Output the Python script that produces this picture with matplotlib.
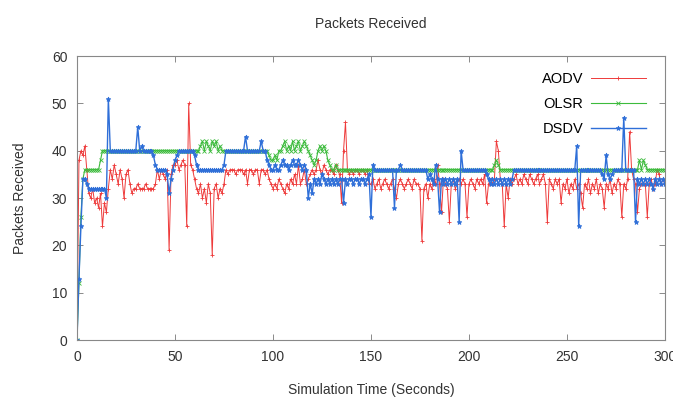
import matplotlib
matplotlib.use("Agg")
import matplotlib.pyplot as plt
import numpy as np

plt.rcParams['font.family'] = ['Liberation Sans', 'DejaVu Sans']

t = np.arange(0, 301)

aodv = [
    0, 38, 40, 39, 41, 36, 31, 30, 32, 29,
    30, 28, 31, 24, 29, 27, 32, 36, 34, 37,
    35, 33, 36, 34, 30, 35, 36, 33, 31, 32,
    32, 33, 32, 32, 32, 33, 32, 32, 32, 32,
    33, 36, 34, 36, 35, 34, 36, 19, 35, 37,
    37, 38, 36, 37, 38, 37, 24, 50, 37, 36,
    34, 32, 31, 33, 30, 32, 29, 33, 31, 18,
    32, 33, 30, 32, 31, 33, 36, 35, 36, 36,
    36, 35, 36, 36, 36, 35, 36, 33, 36, 36,
    35, 36, 36, 33, 36, 36, 35, 36, 34, 33,
    32, 33, 32, 34, 33, 32, 31, 33, 32, 34,
    33, 35, 33, 37, 33, 34, 36, 33, 34, 35,
    36, 35, 36, 38, 36, 35, 37, 36, 35, 36,
    36, 35, 37, 36, 35, 29, 40, 46, 36, 35,
    36, 35, 36, 36, 35, 36, 36, 35, 36, 33,
    33, 34, 32, 33, 34, 32, 33, 34, 33, 32,
    33, 34, 32, 30, 33, 34, 33, 32, 33, 34,
    33, 32, 34, 33, 33, 32, 21, 32, 33, 30,
    33, 32, 34, 33, 37, 33, 27, 34, 33, 32,
    25, 33, 34, 32, 33, 34, 33, 34, 33, 26,
    33, 34, 33, 32, 34, 33, 34, 33, 35, 29,
    33, 34, 33, 34, 42, 40, 34, 33, 24, 33,
    30, 34, 33, 34, 35, 33, 34, 33, 35, 34,
    33, 35, 34, 33, 34, 35, 33, 34, 35, 33,
    25, 34, 33, 32, 34, 33, 34, 29, 33, 32,
    34, 31, 33, 32, 34, 32, 33, 31, 28, 33,
    32, 34, 31, 33, 32, 34, 31, 33, 32, 28,
    33, 32, 34, 31, 33, 32, 34, 33, 26, 33,
    32, 34, 44, 36, 34, 33, 27, 32, 33, 33,
    33, 26, 33, 34, 32, 33, 36, 35, 33, 34, 33,
]

olsr = [
    0, 12, 26, 34, 36, 36, 36, 36, 36, 36,
    36, 36, 38, 40, 40, 40, 40, 40, 40, 40,
    40, 40, 40, 40, 40, 40, 40, 40, 40, 40,
    40, 40, 40, 40, 40, 40, 40, 40, 40, 40,
    40, 40, 40, 40, 40, 40, 40, 40, 40, 40,
    40, 40, 40, 40, 40, 40, 40, 40, 40, 40,
    40, 40, 40, 41, 42, 40, 42, 41, 40, 42,
    41, 42, 40, 41, 40, 40, 40, 40, 40, 40,
    40, 40, 40, 40, 40, 40, 40, 40, 40, 40,
    40, 40, 40, 40, 40, 40, 40, 40, 39, 38,
    38, 39, 38, 40, 40, 41, 42, 40, 41, 40,
    42, 40, 41, 42, 40, 41, 42, 41, 40, 39,
    38, 37, 38, 40, 41, 40, 41, 40, 38, 37,
    36, 36, 37, 36, 36, 36, 36, 36, 36, 36,
    36, 36, 36, 36, 36, 36, 36, 36, 36, 36,
    36, 36, 36, 36, 36, 36, 36, 36, 36, 36,
    36, 36, 36, 36, 36, 36, 36, 36, 36, 36,
    36, 36, 36, 36, 36, 36, 36, 36, 36, 36,
    36, 36, 36, 36, 36, 36, 36, 36, 36, 36,
    36, 36, 36, 36, 36, 36, 36, 36, 36, 36,
    36, 36, 36, 36, 36, 36, 36, 36, 36, 36,
    36, 36, 36, 37, 38, 37, 36, 36, 36, 36,
    36, 36, 36, 36, 36, 36, 36, 36, 36, 36,
    36, 36, 36, 36, 36, 36, 36, 36, 36, 36,
    36, 36, 36, 36, 36, 36, 36, 36, 36, 36,
    36, 36, 36, 36, 36, 36, 36, 36, 36, 36,
    36, 36, 36, 36, 36, 36, 36, 36, 36, 36,
    36, 36, 36, 36, 36, 36, 36, 36, 36, 36,
    36, 36, 36, 36, 36, 36, 36, 38, 36, 38,
    37, 36, 36, 36, 36, 36, 36, 36, 36, 36, 36,
]

dsdv = [
    0, 13, 24, 34, 34, 33, 32, 32, 32, 32,
    32, 32, 32, 32, 32, 30, 51, 40, 40, 40,
    40, 40, 40, 40, 40, 40, 40, 40, 40, 40,
    40, 45, 40, 41, 40, 40, 40, 40, 40, 39,
    37, 36, 36, 36, 36, 36, 35, 31, 34, 36,
    38, 39, 40, 40, 40, 40, 40, 40, 40, 40,
    39, 37, 36, 36, 36, 36, 36, 36, 36, 36,
    36, 36, 36, 36, 36, 37, 40, 40, 40, 40,
    40, 40, 40, 40, 40, 40, 43, 40, 40, 40,
    40, 40, 40, 40, 42, 40, 40, 38, 37, 36,
    36, 37, 36, 36, 37, 38, 37, 37, 36, 37,
    38, 37, 37, 38, 37, 36, 37, 36, 30, 33,
    31, 34, 33, 34, 33, 35, 34, 33, 34, 33,
    34, 33, 34, 33, 34, 34, 29, 34, 33, 34,
    34, 33, 34, 34, 33, 34, 34, 33, 34, 35,
    26, 37, 36, 36, 36, 36, 36, 36, 36, 36,
    36, 36, 28, 36, 36, 37, 36, 36, 36, 36,
    36, 36, 36, 36, 36, 36, 36, 36, 36, 34,
    35, 34, 33, 37, 34, 27, 34, 33, 34, 33,
    34, 33, 34, 33, 34, 25, 40, 36, 36, 36,
    36, 36, 36, 36, 36, 36, 36, 36, 36, 35,
    34, 33, 34, 33, 34, 33, 34, 33, 34, 33,
    34, 33, 34, 36, 36, 36, 36, 36, 36, 36,
    36, 36, 36, 36, 36, 36, 36, 36, 36, 36,
    36, 36, 36, 36, 36, 36, 36, 36, 36, 36,
    36, 36, 36, 36, 36, 41, 24, 36, 36, 36,
    36, 36, 36, 36, 36, 36, 36, 36, 35, 34,
    39, 35, 34, 35, 36, 36, 36, 36, 36, 47,
    36, 36, 36, 36, 36, 25, 34, 33, 34, 33,
    34, 33, 34, 33, 32, 34, 33, 34, 33, 34, 33,
]

fig = plt.figure(figsize=(6.73, 4.03), dpi=100)
ax = fig.add_axes([0.1144, 0.156, 0.8736, 0.705])

ax.plot(t, aodv, color='#ee3a3a', lw=0.7, marker='+', ms=3.5, mew=0.6, label='AODV')
ax.plot(t, olsr, color='#3cbb3c', lw=0.8, marker='x', ms=3, mew=0.6, label='OLSR')
ax.plot(t, dsdv, color='#2f6fd8', lw=1.0, marker='*', ms=3.5, mew=0.6, label='DSDV')

ax.set_xlim(0, 300)
ax.set_ylim(0, 60)
ax.set_xticks(range(0, 301, 50))
ax.set_yticks(range(0, 61, 10))
ax.tick_params(direction='in', top=True, right=True, length=4, width=0.6,
               color='#777777', labelsize=10, labelcolor='#333333', pad=7)
for s in ax.spines.values():
    s.set_color('#888888')
    s.set_linewidth(0.8)

ax.set_title('Packets Received', fontsize=10, color='#333333', pad=20)
ax.set_xlabel('Simulation Time (Seconds)', fontsize=10, color='#333333', labelpad=14)
ax.set_ylabel('Packets Received', fontsize=10, color='#333333', labelpad=18)

ax.legend(loc='upper right', bbox_to_anchor=(0.99, 0.99), frameon=False,
          markerfirst=False, handlelength=3.8, labelspacing=0.75, fontsize=10.5,
          handletextpad=0.5)

fig.savefig('out.png', dpi=100)
